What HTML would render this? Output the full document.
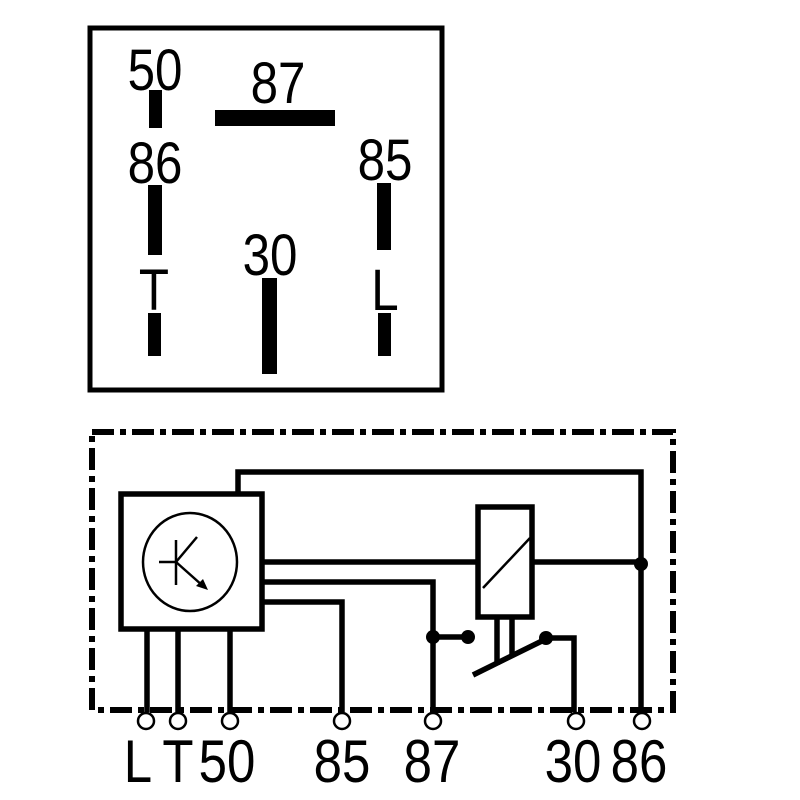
<!DOCTYPE html>
<html><head><meta charset="utf-8"><style>html,body{margin:0;padding:0;background:#fff}svg{display:block}</style></head>
<body>
<svg width="800" height="800" viewBox="0 0 800 800" xmlns="http://www.w3.org/2000/svg">
<rect width="800" height="800" fill="#fff"/>
<rect x="90" y="28" width="352" height="362" fill="none" stroke="#000" stroke-width="5"/>
<g font-family="Liberation Sans, sans-serif" font-size="58" fill="#000" text-anchor="middle">
<text x="155" y="90" transform="translate(155 0) scale(0.85 1) translate(-155 0)">50</text>
<text x="278" y="103" transform="translate(278 0) scale(0.85 1) translate(-278 0)">87</text>
<text x="155" y="183" transform="translate(155 0) scale(0.85 1) translate(-155 0)">86</text>
<text x="385" y="180" transform="translate(385 0) scale(0.85 1) translate(-385 0)">85</text>
<text x="270" y="275" transform="translate(270 0) scale(0.85 1) translate(-270 0)">30</text>
<text x="154" y="310" transform="translate(154 0) scale(0.85 1) translate(-154 0)">T</text>
<text x="385" y="310" transform="translate(385 0) scale(0.85 1) translate(-385 0)">L</text>
</g>
<g fill="#000">
<rect x="149" y="90" width="13" height="38"/>
<rect x="215" y="110" width="120" height="16"/>
<rect x="148" y="185" width="14" height="70"/>
<rect x="148" y="313" width="13" height="43"/>
<rect x="262" y="278" width="15" height="96"/>
<rect x="377" y="183" width="14" height="67"/>
<rect x="378" y="313" width="13" height="43"/>
</g>
<rect x="92" y="432" width="581" height="278" fill="none" stroke="#000" stroke-width="6" stroke-dasharray="22 6 6 6"/>
<g fill="none" stroke="#000" stroke-width="5.5">
<polyline points="238,494 238,472 641,472 641,712"/>
<rect x="121" y="494" width="141" height="135" fill="#fff"/>
<polyline points="262,562 478,562"/>
<polyline points="532,562 641,562"/>
<polyline points="262,582 433,582 433,712"/>
<polyline points="262,602 342,602 342,712"/>
<line x1="433" y1="637" x2="468" y2="637"/>
<rect x="478" y="507" width="54" height="110"/>
<line x1="497" y1="617" x2="497" y2="665"/>
<line x1="512" y1="617" x2="512" y2="657"/>
<line x1="473" y1="675" x2="548" y2="638"/>
<polyline points="547,638 574,638 574,712"/>
<line x1="147" y1="629" x2="147" y2="712"/>
<line x1="178" y1="629" x2="178" y2="712"/>
<line x1="230" y1="629" x2="230" y2="712"/>
</g>
<g fill="none" stroke="#000" stroke-width="2.5">
<ellipse cx="190" cy="562" rx="47" ry="49"/>
<line x1="159" y1="562" x2="176" y2="562"/>
<line x1="176" y1="540" x2="176" y2="585"/>
<line x1="176" y1="562" x2="197" y2="537"/>
<line x1="176" y1="562" x2="203" y2="586"/>
<line x1="483" y1="588" x2="530" y2="538"/>
</g>
<polygon points="208,590 196,586 203,579" fill="#000"/>
<g fill="#000">
<circle cx="641" cy="564" r="7"/>
<circle cx="433" cy="637" r="7"/>
<circle cx="468" cy="637" r="7"/>
<circle cx="546" cy="638" r="7"/>
</g>
<g fill="#fff" stroke="#000" stroke-width="2.5">
<circle cx="146" cy="721" r="8"/>
<circle cx="178" cy="721" r="8"/>
<circle cx="230" cy="721" r="8"/>
<circle cx="342" cy="721" r="8"/>
<circle cx="433" cy="721" r="8"/>
<circle cx="576" cy="721" r="8"/>
<circle cx="642" cy="721" r="8"/>
</g>
<g font-family="Liberation Sans, sans-serif" font-size="60" fill="#000" text-anchor="middle">
<text x="138" y="782" transform="translate(138 0) scale(0.85 1) translate(-138 0)">L</text>
<text x="178" y="782" transform="translate(178 0) scale(0.85 1) translate(-178 0)">T</text>
<text x="227" y="782" transform="translate(227 0) scale(0.85 1) translate(-227 0)">50</text>
<text x="342" y="782" transform="translate(342 0) scale(0.85 1) translate(-342 0)">85</text>
<text x="432" y="782" transform="translate(432 0) scale(0.85 1) translate(-432 0)">87</text>
<text x="573" y="782" transform="translate(573 0) scale(0.85 1) translate(-573 0)">30</text>
<text x="639" y="782" transform="translate(639 0) scale(0.85 1) translate(-639 0)">86</text>
</g>
</svg>
</body></html>
